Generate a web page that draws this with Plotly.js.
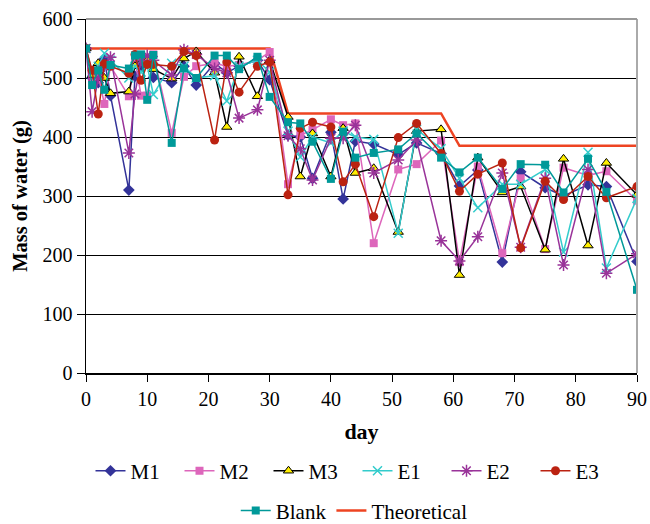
<!DOCTYPE html>
<html><head><meta charset="utf-8">
<script src="https://cdn.plot.ly/plotly-3.0.1.min.js"></script>
<style>html,body{margin:0;padding:0;background:#fff}#chart{width:650px;height:524px}</style>
</head><body><div id="chart"></div>
<script>
const days = [0,1,2,3,4,7,8,9,10,11,14,16,18,21,23,25,28,30,33,35,37,40,42,44,47,51,54,58,61,64,68,71,75,78,82,85,90];
const M1 = [550,500,492,532,470,310,503,520,530,501,492,520,488,525,509,520,530,497,403,400,330,408,295,393,388,370,390,372,317,344,188,341,314,300,319,316,189];
const M2 = [550,500,505,456,520,469,530,470,470,540,407,502,520,525,520,522,530,544,320,403,412,430,420,423,220,345,354,394,188,350,203,330,210,348,335,342,292];
const M3 = [550,505,525,500,474,477,520,533,530,515,499,533,545,509,417,536,469,530,434,333,406,333,415,339,347,239,410,413,166,365,306,316,209,363,216,356,302];
const E1 = [550,510,520,542,530,500,520,510,520,472,525,520,500,504,461,520,530,510,410,366,400,390,410,400,396,237,413,380,330,280,320,320,345,205,374,178,296];
const E2 = [550,443,500,520,535,373,473,530,538,530,505,548,540,516,509,432,446,530,402,380,327,398,398,420,339,361,395,224,190,231,339,213,330,183,345,169,202];
const E3 = [550,513,439,524,520,508,540,496,523,523,520,545,538,395,527,476,520,527,302,415,425,417,324,354,265,399,423,372,308,337,356,212,325,294,333,297,316];
const Blank = [550,488,513,480,522,516,538,540,463,539,390,516,500,538,538,515,536,468,425,423,392,329,409,365,373,379,406,365,340,365,312,354,353,306,363,307,141];
const theoDays = [0,30,33,58,61,90];
const theoretical = [550,550,440,440,385,385];
const names = ['M1','M2','M3','E1','E2','E3','Blank','Theoretical'];

const serif = '"Liberation Serif", "Times New Roman", Times, serif';
function tr(name, y, color, marker, legend, rank) {
  return {x: days, y: y, name: name, type: 'scatter', mode: 'lines+markers',
    line: {color: color, width: 1.5}, marker: marker, legend: legend, legendrank: rank};
}
const data = [
  {x: theoDays, y: theoretical, name: names[7], type: 'scatter', mode: 'lines',
   line: {color: '#ee4422', width: 2.5}, legend: 'legend2', legendrank: 2},
  tr(names[0], M1, '#333399', {symbol: 'diamond', size: 9, color: '#333399'}, 'legend', 1),
  tr(names[1], M2, '#dd66bb', {symbol: 'square', size: 8, color: '#dd66bb'}, 'legend', 2),
  tr(names[2], M3, '#000000', {symbol: 'triangle-up', size: 9, color: '#ffee00', line: {color: '#000', width: 1}}, 'legend', 3),
  tr(names[3], E1, '#33cccc', {symbol: 'x-thin-open', size: 9, color: '#33cccc', line: {color: '#33cccc', width: 1.5}}, 'legend', 4),
  tr(names[4], E2, '#993399', {symbol: 'asterisk-open', size: 10, color: '#993399', line: {color: '#993399', width: 1.5}}, 'legend', 5),
  tr(names[5], E3, '#bb2211', {symbol: 'circle', size: 9, color: '#bb2211'}, 'legend', 6),
  tr(names[6], Blank, '#009999', {symbol: 'square', size: 8, color: '#009999'}, 'legend2', 1)
];

const layout = {
  width: 650, height: 524,
  margin: {l: 86, r: 13, t: 19, b: 151},
  paper_bgcolor: '#fff', plot_bgcolor: '#fff',
  font: {family: serif, size: 20, color: '#000'},
  showlegend: true,
  xaxis: {range: [0, 90], tickvals: [0,10,20,30,40,50,60,70,80,90], showgrid: false, zeroline: false,
    showline: true, linecolor: '#000', linewidth: 1.5, ticks: 'outside', ticklen: 7, tickcolor: '#000',
    tickfont: {family: serif, size: 20},
    title: {text: '<b>day</b>', font: {family: serif, size: 22}, standoff: 15}},
  yaxis: {range: [0, 600], tickvals: [0,100,200,300,400,500,600], showgrid: true, gridcolor: '#000', gridwidth: 1,
    zeroline: false, showline: true, linecolor: '#000', linewidth: 1.5, ticks: 'outside', ticklen: 8, tickcolor: '#000',
    tickfont: {family: serif, size: 20},
    title: {text: '<b>Mass of water (g)</b>', font: {family: serif, size: 20.5}, standoff: 9}},
  legend: {orientation: 'h', xref: 'container', yref: 'container', x: 0.55, xanchor: 'center', y: 0.101, yanchor: 'middle',
    entrywidth: 44, font: {family: serif, size: 21}, traceorder: 'normal', itemwidth: 30},
  legend2: {orientation: 'h', xref: 'container', yref: 'container', x: 0.545, xanchor: 'center', y: 0.025, yanchor: 'middle',
    font: {family: serif, size: 21}, traceorder: 'normal', itemwidth: 30},
  shapes: [
    {type: 'line', xref: 'paper', yref: 'paper', x0: 1, x1: 1, y0: 0, y1: 1, line: {color: '#aaa', width: 2}},
    {type: 'line', xref: 'paper', yref: 'paper', x0: 0, x1: 1, y0: 1, y1: 1, line: {color: '#999', width: 2}}
  ]
};
Plotly.newPlot('chart', data, layout, {displayModeBar: false, staticPlot: true});
</script></body></html>
